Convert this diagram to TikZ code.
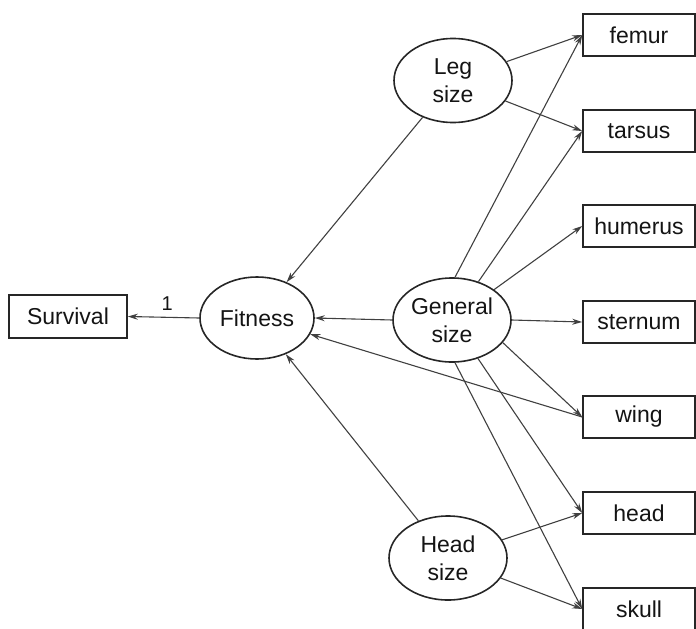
\documentclass[tikz,border=0pt]{standalone}
\usepackage{fontspec}
\setmainfont{Liberation Sans}
\usetikzlibrary{shapes.geometric,arrows.meta}
\begin{document}
\begin{tikzpicture}[x=1pt,y=-1pt,
  font=\fontsize{23}{28}\selectfont,
  every node/.style={text=black!92},
  latent/.style={ellipse,draw=black!85,line width=1.6pt,inner sep=0pt,
    minimum width=118pt,minimum height=84pt,align=center},
  observed/.style={rectangle,draw=black!85,line width=1.6pt,inner sep=0pt,
    minimum width=112pt,minimum height=42pt},
  path/.style={draw=black!75,line width=1.1pt,-{Stealth[length=10pt,width=6pt]}}]
\useasboundingbox (0,0) rectangle (696,629);

% latent variables
\node[latent] (leg) at (453,80.5) {Leg\\size};
\node[latent] (gen) at (452,320) {General\\size};
\node[latent] (hs)  at (448,558) {Head\\size};
\node[latent,minimum width=114pt,minimum height=82pt] (fit) at (257,318) {Fitness};

% observed measurements
\node[observed,minimum width=118pt,minimum height=43pt] (surv) at (68,316.5) {Survival};
\node[observed] (femur)   at (639,35)  {femur};
\node[observed] (tarsus)  at (639,131) {tarsus};
\node[observed] (humerus) at (639,226) {humerus};
\node[observed] (sternum) at (639,322) {sternum};
\node[observed] (wing)    at (639,417) {wing};
\node[observed] (head)    at (639,513) {head};
\node[observed] (skull)   at (639,609) {skull};

% fitness to survival
\draw[path] (fit.west) -- node[above=3pt,pos=0.45,font=\fontsize{20}{24}\selectfont]{1} (surv.east);

% paths into fitness
\draw[path] (leg) -- (fit);
\draw[path] (gen.west) -- (fit.east);
\draw[path] (hs) -- (fit);
\draw[path] (wing.west) -- (fit);

% leg size loadings
\draw[path] (leg) -- (femur.west);
\draw[path] (leg) -- (tarsus.west);

% general size loadings
\draw[path] (gen.86)  -- (femur.west);
\draw[path] (gen) -- (tarsus.west);
\draw[path] (gen) -- (humerus.west);
\draw[path] (gen.east) -- (sternum.west);
\draw[path] (gen.-24) -- (wing.west);
\draw[path] (gen) -- (head.west);
\draw[path] (gen.-86) -- (skull.west);

% head size loadings
\draw[path] (hs) -- (head.west);
\draw[path] (hs) -- (skull.west);
\end{tikzpicture}
\end{document}
